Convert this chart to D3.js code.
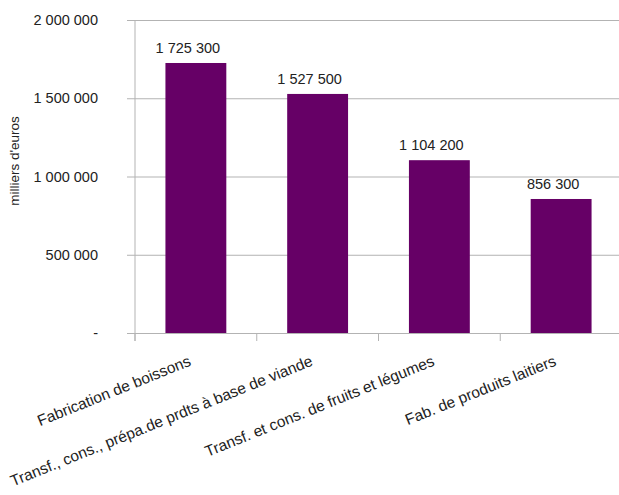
<!DOCTYPE html>
<html>
<head>
<meta charset="utf-8">
<script src="https://cdn.jsdelivr.net/npm/d3@7"></script>
<style>
  body { margin: 0; background: #fff; }
  text { font-family: "Liberation Sans", Arial, sans-serif; fill: #222; }
</style>
</head>
<body>
<div id="chart"></div>
<script>
// chart data
var categories = [
  "Fabrication de boissons",
  "Transf., cons., prépa.de prdts à base de viande",
  "Transf. et cons. de fruits et légumes",
  "Fab. de produits laitiers"
];
var values = [1725300, 1527500, 1104200, 856300];
var yTicks = [0, 500000, 1000000, 1500000, 2000000];
var yTitle = "milliers d'euros";

var svgWidth = 619;
var svgHeight = 495;

var margin = { top: 20, right: -3, bottom: 162, left: 135 };
var width = svgWidth - margin.left - margin.right;
var height = svgHeight - margin.top - margin.bottom;

var fr = d3.formatLocale({ decimal: ",", thousands: " ", grouping: [3], currency: ["", " €"] });
var fmt = fr.format(",d");
var tickFmt = function(d) { return d === 0 ? "-" : fmt(d); };

var svg = d3.select("#chart")
  .append("svg")
  .attr("width", svgWidth)
  .attr("height", svgHeight);

var chartGroup = svg.append("g")
  .attr("transform", `translate(${margin.left}, ${margin.top})`);

var xScale = d3.scaleBand()
  .domain(categories)
  .range([0, width])
  .paddingInner(0.5)
  .paddingOuter(0.25);

var yScale = d3.scaleLinear()
  .domain([0, 2000000])
  .range([height, 0]);

// gridlines + y labels
var leftAxis = d3.axisLeft(yScale)
  .tickValues(yTicks)
  .tickSize(-(width + 8))
  .tickPadding(29)
  .tickFormat(tickFmt);

var yAxisG = chartGroup.append("g")
  .attr("transform", "translate(-8, 0)")
  .call(leftAxis);
yAxisG.select(".domain").remove();
yAxisG.selectAll("line").attr("stroke", "#b3b3b3");
yAxisG.selectAll("text")
  .attr("font-size", 14.5)
  .attr("fill", "#222")
  .attr("font-family", "Liberation Sans, Arial, sans-serif");

// vertical axis line
chartGroup.append("line")
  .attr("x1", 0).attr("x2", 0)
  .attr("y1", 0).attr("y2", height + 8)
  .attr("stroke", "#b3b3b3");

// category separator ticks
chartGroup.selectAll(".xtick")
  .data(categories)
  .enter()
  .append("line")
  .attr("x1", d => xScale(d) - xScale.step() * xScale.paddingInner() / 2)
  .attr("x2", d => xScale(d) - xScale.step() * xScale.paddingInner() / 2)
  .attr("y1", height)
  .attr("y2", height + 8)
  .attr("stroke", "#b3b3b3");

chartGroup.selectAll(".bar")
  .data(values)
  .enter()
  .append("rect")
  .attr("x", (d, i) => xScale(categories[i]))
  .attr("y", d => yScale(d))
  .attr("width", xScale.bandwidth())
  .attr("height", d => height - yScale(d))
  .attr("fill", "#660066");

chartGroup.selectAll(".vlabel")
  .data(values)
  .enter()
  .append("text")
  .text(d => fmt(d))
  .attr("x", (d, i) => xScale(categories[i]) + xScale.bandwidth() / 2 - 8)
  .attr("y", d => yScale(d) - 10)
  .attr("text-anchor", "middle")
  .attr("font-size", 14.5);

chartGroup.selectAll(".xlabel")
  .data(categories)
  .enter()
  .append("text")
  .text(d => d)
  .attr("text-anchor", "end")
  .attr("font-size", 15.5)
  .attr("transform", d => `translate(${xScale(d) + xScale.bandwidth() / 2 - 4}, ${height + 32}) rotate(-22)`);

svg.append("text")
  .attr("transform", "translate(19, 161) rotate(-90)")
  .attr("text-anchor", "middle")
  .attr("font-size", 13.5)
  .text(yTitle);
</script>
</body>
</html>
